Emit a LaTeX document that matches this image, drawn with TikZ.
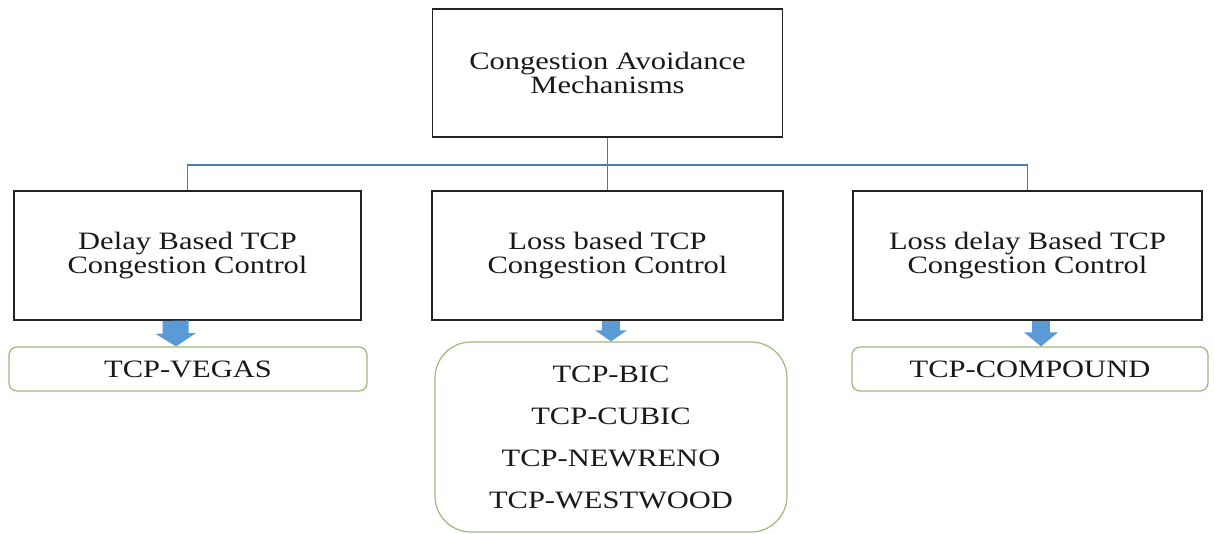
\documentclass[tikz,border=0pt]{standalone}
\usepackage{fontspec}
\usepackage{graphicx}
\setmainfont{Liberation Serif}
\usetikzlibrary{arrows.meta}
\definecolor{busblue}{HTML}{4A7AAE}
\definecolor{arrowblue}{HTML}{5B9BD5}
\definecolor{leafgreen}{HTML}{9DB97A}
\definecolor{boxline}{HTML}{222222}
\newcommand\hs[1]{\scalebox{1.22}[1]{#1}}
\begin{document}
\begin{tikzpicture}[x=1pt,y=-1pt,
  catbox/.style={draw=boxline, line width=1.4pt, fill=white, align=center,
     inner sep=0pt, font=\fontsize{25}{24}\selectfont, text=black!90},
  leafbox/.style={draw=leafgreen, line width=1.2pt, fill=white, align=center,
     inner sep=0pt, rounded corners=8pt, font=\fontsize{25}{42}\selectfont, text=black!90},
  busline/.style={draw=busblue, line width=1.3pt}]
\useasboundingbox (0,0) rectangle (1214,533);
\fill[white] (0,0) rectangle (1214,533);

\node[catbox, minimum width=350pt, minimum height=128pt] (top) at (607.5,73)
  {\hs{Congestion Avoidance}\\\hs{Mechanisms}};

\node[catbox, minimum width=347pt, minimum height=129pt] (L) at (187.5,255.5)
  {\hs{Delay Based TCP}\\\hs{Congestion Control}};
\node[catbox, minimum width=351pt, minimum height=129pt] (M) at (607.5,255.5)
  {\hs{Loss based TCP}\\\hs{Congestion Control}};
\node[catbox, minimum width=349pt, minimum height=129pt] (R) at (1027.5,255.5)
  {\hs{Loss delay Based TCP}\\\hs{Congestion Control}};

\node[leafbox, minimum width=358pt, minimum height=44pt] (LG) at (188,369)
  {\hs{TCP-VEGAS}};
\node[leafbox, rounded corners=36pt, minimum width=352pt, minimum height=190pt] (MG) at (611,437)
  {\hs{TCP-BIC}\\\hs{TCP-CUBIC}\\\hs{TCP-NEWRENO}\\\hs{TCP-WESTWOOD}};
\node[leafbox, minimum width=356pt, minimum height=44pt] (RG) at (1030,369)
  {\hs{TCP-COMPOUND}};

\coordinate (bus) at (607.5,165);
\draw[busline] (top.south) -- (M.north);
\draw[busline] (L.north) |- (bus) -| (R.north);

\draw[arrowblue, line width=26pt, -{Triangle[width=40pt,length=13pt]}]
  ([xshift=-12pt]L.south) -- ([xshift=-12pt]LG.north);
\draw[arrowblue, line width=18pt, -{Triangle[width=31pt,length=11pt]}]
  ([xshift=3.5pt]M.south) -- ([xshift=0pt]MG.north);
\draw[arrowblue, line width=18pt, -{Triangle[width=33pt,length=14pt]}]
  ([xshift=13.5pt]R.south) -- ([xshift=11pt]RG.north);
\end{tikzpicture}
\end{document}
